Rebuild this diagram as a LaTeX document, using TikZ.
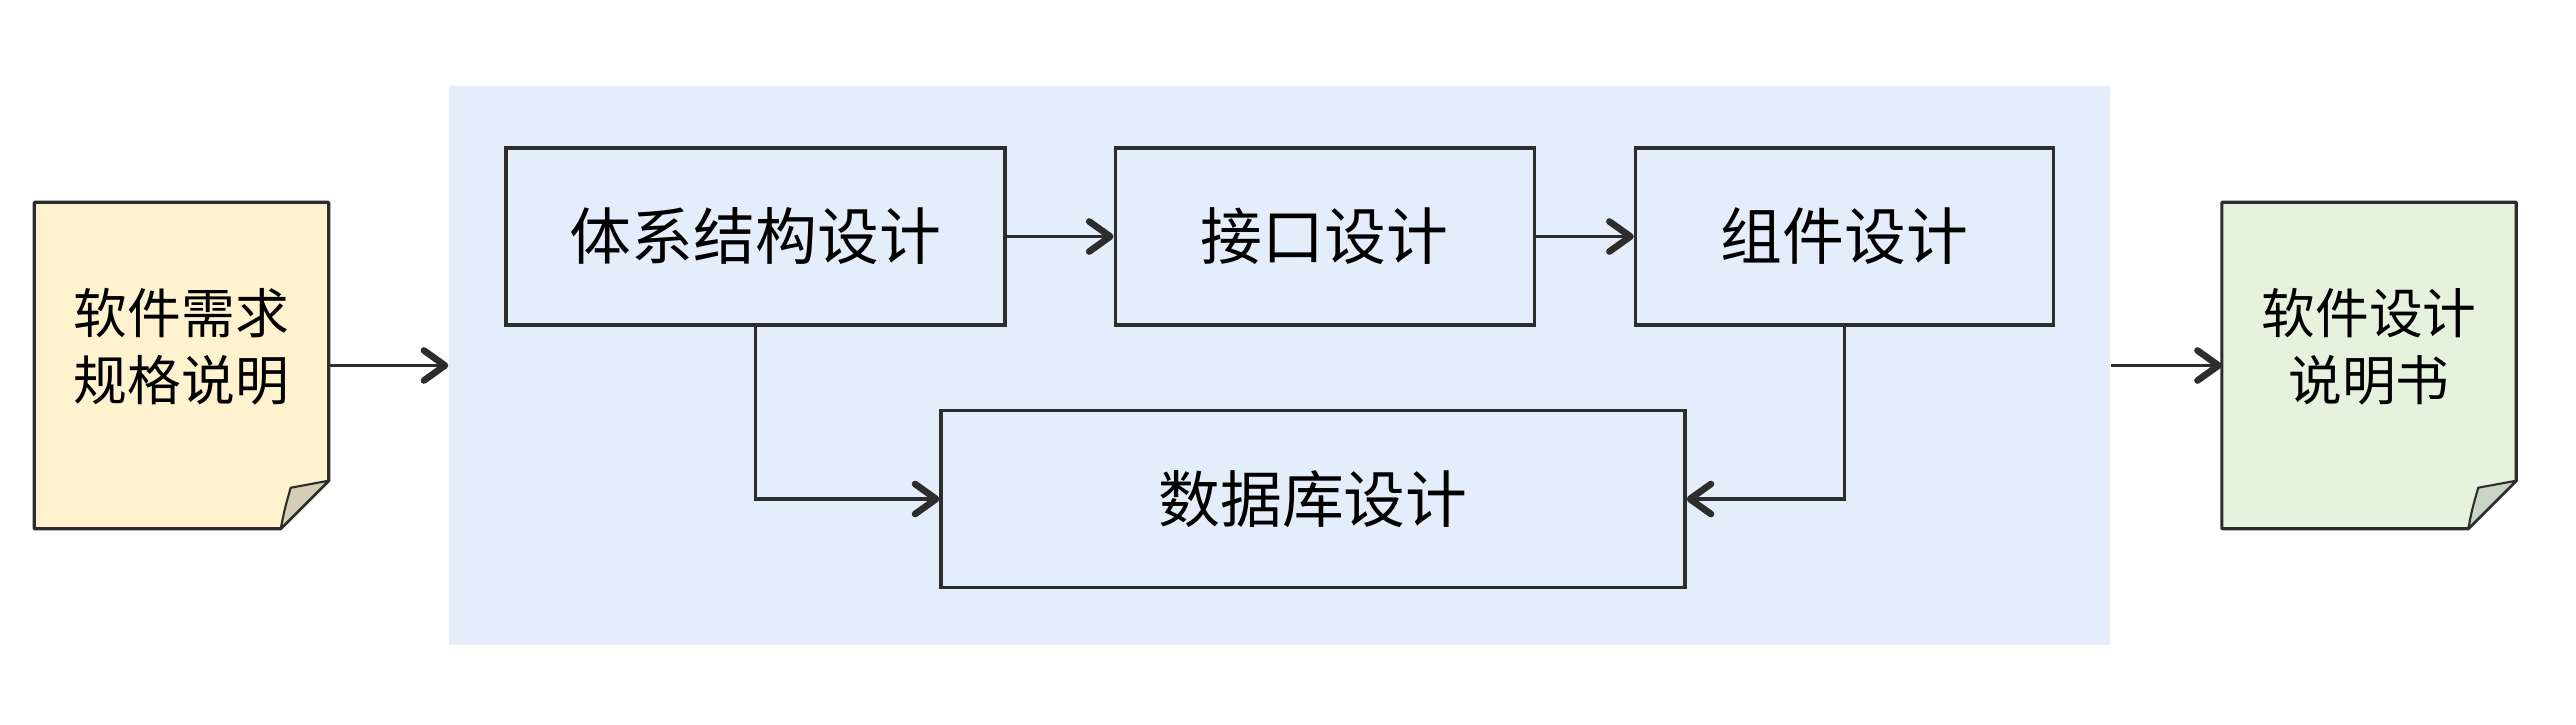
\documentclass[tikz,border=0pt]{standalone}
\usepackage{fontspec}
\newfontfamily\cjk{Noto Sans CJK SC}
\usepackage{tikz}
\usetikzlibrary{arrows.meta, positioning, backgrounds}
\definecolor{linegray}{RGB}{45, 45, 45}
\definecolor{panelblue}{RGB}{228, 238, 251}
\definecolor{reqyellow}{RGB}{255, 242, 206}
\definecolor{reqfold}{RGB}{214, 205, 182}
\definecolor{specgreen}{RGB}{228, 242, 222}
\definecolor{specfold}{RGB}{200, 212, 196}

\begin{document}
\begin{tikzpicture}[
    design/.style={draw=linegray, line width=0.9pt, minimum height=1.77cm, inner sep=0pt, font=\cjk\fontsize{17.6}{21}\selectfont},
    doc/.style={minimum width=2.93cm, minimum height=3.25cm, inner sep=0pt},
    doctext/.style={font=\cjk\fontsize{15.3}{19}\selectfont, align=center},
    arrow/.style={-{Straight Barb[length=2.1mm, width=3mm, line width=1.9pt, round]}, line width=0.9pt, linegray}
]
    \useasboundingbox (0,0) rectangle (25.76,-7.24);

    % Panel
    \node[fill=panelblue, minimum width=16.61cm, minimum height=5.59cm, inner sep=0pt] (panel) at (12.795,-3.655) {};

    % Documents
    \node[doc, label={[doctext, yshift=0.19cm]center:{软件需求\\规格说明}}] (req) at (1.815,-3.655) {};
    \node[doc, label={[doctext, yshift=0.19cm]center:{软件设计\\说明书}}] (spec) at (23.69,-3.655) {};

    % Nodes - top row
    \node[design, minimum width=4.99cm] (arch) at (7.555,-2.365) {体系结构设计};
    \node[design, minimum width=4.19cm, right=1.07cm of arch] (iface) {接口设计};
    \node[design, minimum width=4.18cm, right=0.98cm of iface] (comp) {组件设计};

    % Nodes - bottom row
    \node[design, minimum width=7.44cm] (db) at (13.13,-4.99) {数据库设计};

    % Document outlines with folded corner
    \begin{scope}[on background layer]
    \foreach \n/\c/\f in {req/reqyellow/reqfold, spec/specgreen/specfold} {
        \filldraw[fill=\c, draw=linegray, line width=0.9pt, line join=round]
            (\n.north west) -- (\n.north east) -- ([yshift=0.48cm]\n.south east)
            -- ([xshift=-0.48cm]\n.south east) -- (\n.south west) -- cycle;
        \filldraw[fill=\f, draw=linegray, line width=0.6pt, line join=round]
            ([xshift=-0.48cm]\n.south east)
            .. controls ([xshift=-0.44cm, yshift=0.2cm]\n.south east) .. ([xshift=-0.38cm, yshift=0.41cm]\n.south east)
            -- ([yshift=0.48cm]\n.south east) -- cycle;
    }
    \end{scope}

    % Arrows
    \draw[arrow] (req) -- (panel);
    \draw[arrow] (panel) -- (spec);
    \draw[arrow] (arch) -- (iface);
    \draw[arrow] (iface) -- (comp);
    \draw[arrow] (arch) |- (db);
    \draw[arrow] (comp) |- (db);
\end{tikzpicture}
\end{document}
